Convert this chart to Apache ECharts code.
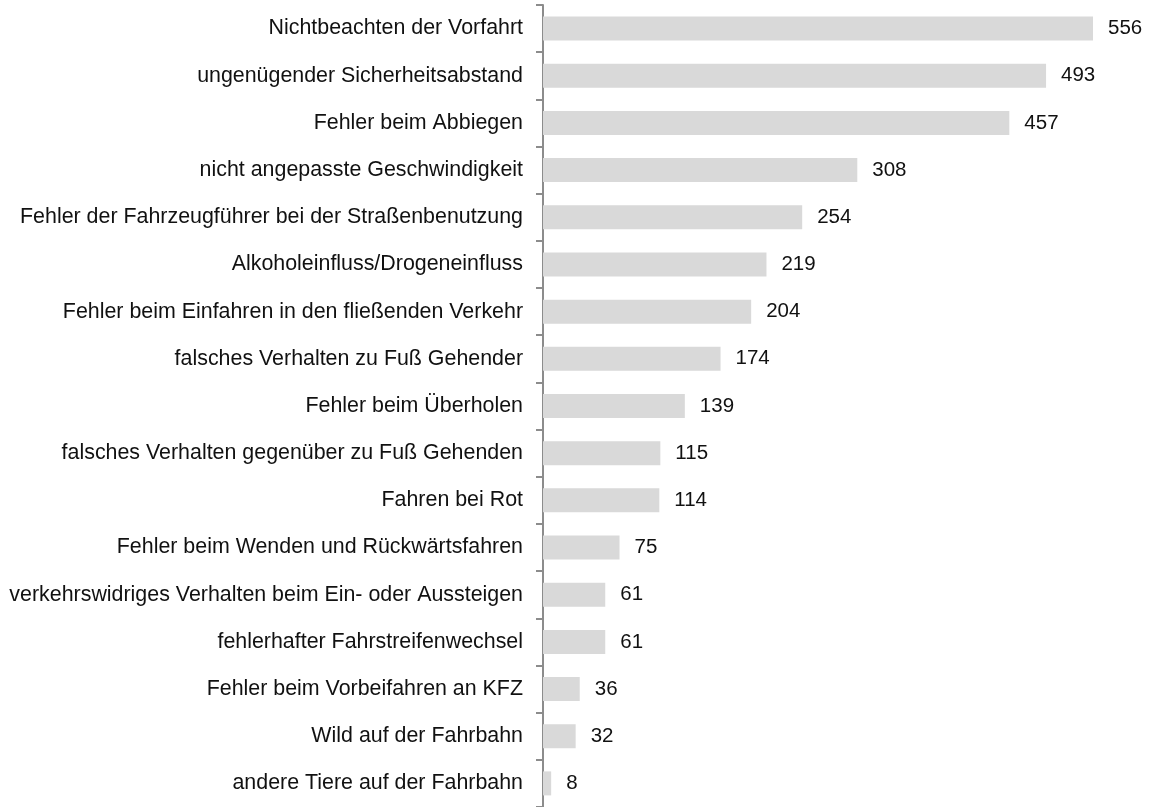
<!DOCTYPE html>
<html>
<head>
<meta charset="utf-8">
<script src="https://cdn.jsdelivr.net/npm/echarts@6/dist/echarts.min.js"></script>
<style>
  html, body { margin: 0; padding: 0; background: #fff; }
  #chart { width: 1159px; height: 807px; }
</style>
</head>
<body>
<div id="chart"></div>
<script>
// Kategorien (von oben nach unten)
const categories = [
  "Nichtbeachten der Vorfahrt",
  "ungenügender Sicherheitsabstand",
  "Fehler beim Abbiegen",
  "nicht angepasste Geschwindigkeit",
  "Fehler der Fahrzeugführer bei der Straßenbenutzung",
  "Alkoholeinfluss/Drogeneinfluss",
  "Fehler beim Einfahren in den fließenden Verkehr",
  "falsches Verhalten zu Fuß Gehender",
  "Fehler beim Überholen",
  "falsches Verhalten gegenüber zu Fuß Gehenden",
  "Fahren bei Rot",
  "Fehler beim Wenden und Rückwärtsfahren",
  "verkehrswidriges Verhalten beim Ein- oder Aussteigen",
  "fehlerhafter Fahrstreifenwechsel",
  "Fehler beim Vorbeifahren an KFZ",
  "Wild auf der Fahrbahn",
  "andere Tiere auf der Fahrbahn"
];
const values = [556, 493, 457, 308, 254, 219, 204, 174, 139, 115, 114, 75, 61, 61, 36, 32, 8];

let chart = echarts.init(document.getElementById("chart"));
chart.setOption({
  animation: false,
  grid: {left: 543, top: 5, width: 550, height: 802, containLabel: false},
  xAxis: {
    type: "value",
    min: 0,
    max: 539,
    show: false
  },
  yAxis: {
    type: "category",
    data: categories,
    inverse: true,
    axisLine: {show: true, lineStyle: {color: "#8c8c8c", width: 2}},
    axisTick: {show: true, length: 7, lineStyle: {color: "#8c8c8c", width: 2}},
    axisLabel: {
      margin: 20,
      color: "#111",
      fontFamily: "Liberation Sans, Arial, sans-serif",
      fontSize: 21.4
    },
    splitLine: {show: false}
  },
  series: [{
    type: "bar",
    data: values,
    barWidth: 24,
    clip: true,
    itemStyle: {color: "#d9d9d9"},
    label: {
      show: true,
      position: "right",
      distance: 15,
      color: "#111",
      fontFamily: "Liberation Sans, Arial, sans-serif",
      fontSize: 20.5
    }
  }]
});
</script>
</body>
</html>
